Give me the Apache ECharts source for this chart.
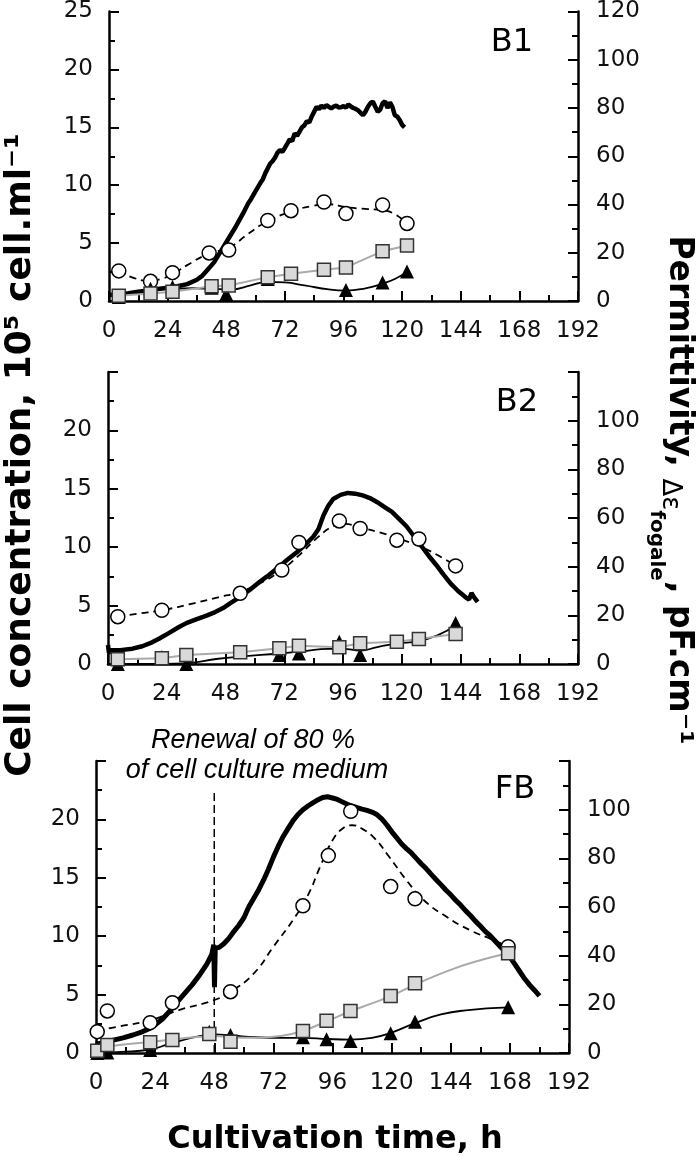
<!DOCTYPE html>
<html>
<head>
<meta charset="utf-8">
<script src="https://cdn.jsdelivr.net/npm/echarts@6/dist/echarts.min.js"></script>
<style>
html, body { margin: 0; padding: 0; background: #fff; }
#box { width: 699px; height: 1157px; }
</style>
</head>
<body>
<div id="box"></div>
<script>
// ---- panel B1 ----
var b1Perm = [[0,2.5],[4,2.8],[8,3.2],[12,3.8],[16,4.4],[20,5.0],[24,5.5],[28,6.1],[32,7.0],[36,8.8],[38,10.3],[40,12.5],[43,16],[46,21],[49,26],[52,31],[55,36.5],[57,40.5],[58,42],[60,45.5],[62,49],[63,50.5],[64,53],[66,57],[67,58],[68,59.5],[69,61.5],[70,62.5],[71,61.8],[72,63.5],[73,65.2],[74,67],[75,66.3],[76,69.5],[77,68.5],[78,70.2],[79,72],[80,72.8],[81,74.5],[82,74],[83,76.5],[84,78.5],[85,80.5],[86,79.5],[87,81],[88,80],[89,81.2],[90,80.5],[91,79.8],[92,80.6],[93,81],[94,80.2],[95,80.3],[96,80.8],[97,80.1],[98,81.5],[99,80.6],[100,80],[101,79.6],[102,79],[103,78],[104,77],[105,78.5],[106,80.5],[107,82],[108,82.7],[109,80.5],[110,78.5],[111,79.3],[112,82],[113,82.8],[114,80],[115,82.3],[116,80.5],[117,77],[118,76.5],[119,75],[120,73],[121,72]];
var b1Circles = [[4,2.6],[17,1.7],[26,2.45],[41,4.15],[49,4.4],[65,6.95],[74.5,7.8],[88,8.55],[97,7.55],[112,8.3],[122,6.7]];
var b1CircleFit = [[4,2.6],[10,2.0],[17,1.75],[22,1.95],[26,2.3],[32,3.1],[41,4.1],[49,4.6],[57,5.8],[65,6.9],[75,7.75],[83,8.2],[90,8.35],[97,8.1],[105,7.95],[112,7.85],[117,7.5],[122,6.7]];
var b1Squares = [[4,0.45],[17,0.65],[26,0.8],[42,1.27],[49,1.33],[65,2.06],[74.5,2.35],[88,2.7],[97,2.9],[112,4.3],[122,4.8]];
var b1Triangles = [[4,0.35],[17,1.05],[26,1.2],[42,1.15],[48,0.6],[65,1.9],[97,0.95],[112,1.6],[122,2.55]];
var b1TriangleFit = [[4,0.4],[17,0.9],[26,1.05],[35,1.1],[42,1.05],[50,1.0],[58,1.35],[65,1.65],[72,1.6],[80,1.35],[90,1.0],[97,0.9],[105,1.1],[112,1.5],[117,1.9],[122,2.5]];

// ---- panel B2 ----
var b2Perm = [[0,7.8],[0.4,4.5],[1,5.6],[5,5.7],[10,6.3],[14,7.3],[18,8.9],[21,10.5],[25,12.8],[29,15.2],[32,16.8],[36,18.3],[40,19.8],[43,21],[47,23],[50,25],[54,27.6],[58,30.5],[62,33.8],[65,36],[69,39.2],[73,42.6],[77,45.8],[81,49.4],[84,52.5],[86,55.5],[88,61],[90,65],[92,67.8],[95,69.5],[98,70.3],[101,70],[104,69.3],[107,68.2],[110,66.5],[113,64.5],[116,62.5],[119,59.5],[122,56.5],[125,52.5],[128,48.5],[131,44.5],[134,40.8],[137,36.8],[140,33],[143,30],[146,27.5],[147.5,26.5],[148.5,29.2],[149.5,27.5],[151,25.5]];
var b2Circles = [[4,4.05],[22,4.6],[54,6.05],[71,8.05],[78,10.4],[94.5,12.25],[103,11.6],[118,10.6],[127,10.7],[142,8.4]];
var b2CircleFit = [[4,4.05],[12,4.3],[22,4.6],[35,5.2],[45,5.7],[54,6.2],[62,6.9],[70,7.9],[78,9.3],[86,10.9],[92,11.8],[96,12.0],[103,11.7],[112,11.2],[118,10.8],[127,10.1],[134,9.4],[142,8.4]];
var b2Squares = [[4,0.4],[22,0.49],[32,0.77],[54,1.0],[70,1.34],[78,1.57],[94.5,1.43],[103,1.77],[118,1.91],[127,2.14],[142,2.57]];
var b2Triangles = [[4,0],[22,0.6],[32,0],[70,0.77],[78,0.9],[94.5,1.9],[103,0.77],[142,3.5]];
var b2TriangleFit = [[4,0.0],[15,0.0],[31,0.05],[45,0.45],[55,0.65],[70,0.9],[80,1.1],[90,1.3],[96,1.3],[103,1.15],[110,1.45],[118,1.75],[127,1.95],[135,2.5],[142,3.3]];

// ---- panel FB ----
var fbPerm = [[0,3.5],[3,4.3],[7,5.3],[11,6.2],[15,7.4],[19,8.8],[22,10.2],[24,11.6],[27,14],[30,17.3],[33,21],[36,24.5],[39,28],[42,32],[45,36.5],[47,40.5],[47.8,44.5],[48.1,27],[48.4,43],[50,43.4],[52,45],[54,47.2],[56,50],[58,52.5],[60,55.5],[62,60],[64,63.5],[66,67],[68,71],[70,75.5],[72,80.5],[74,85],[76,89],[78,92.3],[80,95.5],[82,98],[84,100],[86,101.5],[88,102.8],[90,104],[92,105],[94,105.3],[96,104.8],[98,104.2],[100,103.2],[102,102.2],[104,101.5],[106,100.8],[108,100.2],[110,99.7],[112,99],[114,98],[116,96.2],[118,93.8],[120,91],[122,88.5],[124,86],[126,84],[128,82.2],[130,80],[132,77.8],[134,75.8],[136,73.5],[138,71.3],[140,69.2],[142,67],[144,65],[146,62.8],[148,60.8],[150,58.5],[152,56.5],[154,54.2],[156,52.2],[158,50],[160,48.2],[162,46],[164,43.8],[166,41.8],[168,39.5],[170,36.5],[172,33.5],[174,30.5],[176,28],[178,25.8],[180,23.5]];
var fbCircles = [[0.5,1.83],[4.6,3.6],[22,2.6],[31,4.3],[54.6,5.25],[84,12.6],[94.3,16.9],[103.4,20.7],[119.6,14.25],[129.5,13.2],[167.3,9.1]];
var fbCircleFit = [[0.5,1.9],[10,2.3],[22,2.8],[34,3.7],[47.6,4.5],[54.6,5.25],[64,6.8],[72,9.1],[80,11.4],[86,13.5],[91,15.95],[96,18.2],[100,19.2],[104,19.5],[108,19.2],[113,18.4],[119,16.8],[126,14.8],[133,13.1],[142,11.7],[152,10.5],[161,9.7],[167.3,9.1]];
var fbSquares = [[0.5,0.2],[4.6,0.68],[22,0.92],[31,1.11],[46,1.63],[54.6,0.97],[84,1.88],[93.6,2.77],[103.3,3.6],[119.6,4.88],[129.5,5.97],[167.3,8.54]];
var fbSquareFit = [[0.5,0.25],[5,0.55],[22,0.95],[31,1.15],[40,1.35],[48,1.45],[55,1.35],[65,1.3],[75,1.45],[84,1.9],[94,2.75],[103,3.55],[112,4.25],[120,4.9],[130,5.9],[145,7.2],[157,8.0],[167.3,8.54]];
var fbTriangles = [[0.5,0],[4.6,0.05],[22,0.26],[46,1.83],[54.6,1.54],[84,1.34],[93.6,1.17],[103.3,1.03],[119.6,1.69],[129.5,2.68],[167.3,3.91]];
var fbTriangleFit = [[0.5,0],[10,0.1],[22,0.3],[30,0.8],[40,1.35],[48,1.6],[55,1.5],[65,1.35],[75,1.3],[84,1.3],[94,1.2],[103,1.15],[112,1.3],[120,1.75],[130,2.6],[140,3.3],[150,3.65],[167.3,3.9]];

// medium renewal marker (h, top of dashed line in cell conc. units)
var renewalLine = [[48,0],[48,22.3]];

var panelNames = ['B1', 'B2', 'FB'];

var panels = [
  {perm: b1Perm, circles: b1Circles, circleFit: b1CircleFit, squares: b1Squares, squareFit: null, triangles: b1Triangles, triangleFit: b1TriangleFit},
  {perm: b2Perm, circles: b2Circles, circleFit: b2CircleFit, squares: b2Squares, squareFit: null, triangles: b2Triangles, triangleFit: b2TriangleFit},
  {perm: fbPerm, circles: fbCircles, circleFit: fbCircleFit, squares: fbSquares, squareFit: fbSquareFit, triangles: fbTriangles, triangleFit: fbTriangleFit}
];

var grids = [
  {left: 109, top: 6, width: 469, height: 295},
  {left: 108, top: 372, width: 470, height: 292},
  {left: 96, top: 761, width: 473, height: 292}
];

var FONT = 'DejaVu Sans, Verdana, sans-serif';
var axisLine = {show: true, onZero: false, lineStyle: {color: '#000', width: 2.5}};
var tick = {show: true, inside: true, length: 10, lineStyle: {color: '#000', width: 2}};
var minor = {show: true, splitNumber: 2, length: 6, lineStyle: {color: '#000', width: 2}};

var xAxes = [], yAxes = [], series = [];
for (var i = 0; i < 3; i++) {
  xAxes.push({
    type: 'value', gridIndex: i, min: 0, max: 192, interval: 24,
    axisLine: axisLine, axisTick: tick, minorTick: minor,
    splitLine: {show: false},
    axisLabel: {fontSize: 23, color: '#111', fontFamily: FONT, margin: 19, showMinLabel: true, showMaxLabel: true,
      alignMinLabel: 'center', alignMaxLabel: 'center'}
  });
  yAxes.push({
    type: 'value', gridIndex: i, position: 'left', min: 0, max: 25, interval: 5,
    axisLine: axisLine, axisTick: tick, minorTick: minor,
    splitLine: {show: false},
    axisLabel: {fontSize: 23, color: '#111', fontFamily: FONT, margin: 16, showMaxLabel: i === 0}
  });
  yAxes.push({
    type: 'value', gridIndex: i, position: 'right', min: 0, max: 120, interval: 20,
    axisLine: axisLine, axisTick: tick, minorTick: minor,
    splitLine: {show: false},
    axisLabel: {fontSize: 23, color: '#111', fontFamily: FONT, margin: 18, showMaxLabel: i === 0}
  });

  var p = panels[i];
  var left = 2 * i, right = 2 * i + 1;
  series.push({
    type: 'line', xAxisIndex: i, yAxisIndex: right, data: p.perm,
    showSymbol: false, symbol: 'none', lineStyle: {color: '#000', width: i === 2 ? 5 : 4.5}, z: 2
  });
  series.push({
    type: 'line', xAxisIndex: i, yAxisIndex: left, data: p.circleFit, smooth: true,
    symbol: 'none', lineStyle: {color: '#000', width: 1.8, type: [7, 5]}, z: 3
  });
  series.push({
    type: 'scatter', xAxisIndex: i, yAxisIndex: left, data: p.circles, symbol: 'circle', symbolSize: 14,
    itemStyle: {color: '#fff', borderColor: '#000', borderWidth: 1.5, opacity: 1}, z: 4
  });
  series.push({
    type: 'line', xAxisIndex: i, yAxisIndex: left, data: p.triangleFit, smooth: true,
    symbol: 'none', lineStyle: {color: '#000', width: 1.8}, z: 5
  });
  series.push({
    type: 'scatter', xAxisIndex: i, yAxisIndex: left, data: p.triangles, symbol: 'triangle', symbolSize: 14,
    itemStyle: {color: '#000', opacity: 1}, z: 6
  });
  series.push({
    type: 'line', xAxisIndex: i, yAxisIndex: left, data: p.squareFit || p.squares, smooth: !!p.squareFit,
    symbol: 'none', lineStyle: {color: '#aaaaaa', width: 2}, z: 7
  });
  series.push({
    type: 'scatter', xAxisIndex: i, yAxisIndex: left, data: p.squares, symbol: 'rect', symbolSize: 13,
    itemStyle: {color: '#d9d9d9', borderColor: '#333', borderWidth: 1.5, opacity: 1}, z: 8
  });
}
series.push({
  type: 'line', xAxisIndex: 2, yAxisIndex: 4, data: renewalLine, symbol: 'none',
  lineStyle: {color: '#000', width: 1.5, type: [8, 4]}, z: 3
});

function label(x, y, text, size, extra) {
  var st = {text: text, fontSize: size, fontFamily: FONT, fill: '#000',
    align: 'center', verticalAlign: 'middle', textAlign: 'center', textVerticalAlign: 'middle'};
  for (var k in extra || {}) st[k] = extra[k];
  return {type: 'text', x: x, y: y, style: st, z: 100};
}

var ITALIC = 'Liberation Sans, Arial, sans-serif';
var graphics = [
  label(512, 43, panelNames[0], 32),
  label(517, 403, panelNames[1], 32),
  label(515, 790, panelNames[2], 32),
  label(253, 740, 'Renewal of 80 %', 27, {fontFamily: ITALIC, fontStyle: 'italic'}),
  label(257, 770, 'of cell culture medium', 27, {fontFamily: ITALIC, fontStyle: 'italic'}),
  label(335, 1140, 'Cultivation time, h', 32, {fontWeight: 'bold'})
];
var leftTitle = label(0, 0, 'Cell concentration, 10\u2075 cell.ml\u207B\u00B9', 36, {fontWeight: 'bold'});
leftTitle.x = 21; leftTitle.y = 455; leftTitle.rotation = Math.PI / 2;
graphics.push(leftTitle);

// right title built from pieces so the subscript sits below the baseline
var ctx = document.createElement('canvas').getContext('2d');
var rightParts = [
  {t: 'Permittivity, ', size: 33, weight: 'bold', shift: 0},
  {t: '\u0394\u03B5', size: 26, weight: 'normal', shift: 7},
  {t: 'fogale', size: 20, weight: 'bold', shift: 19},
  {t: ', pF.cm\u207B\u00B9', size: 33, weight: 'bold', shift: 0}
];
var total = 0;
rightParts.forEach(function (pt) {
  ctx.font = pt.weight + ' ' + pt.size + 'px DejaVu Sans';
  pt.w = ctx.measureText(pt.t).width;
  total += pt.w;
});
var baseline = 12;
var cursor = -total / 2;
var children = rightParts.map(function (pt) {
  var el = {
    type: 'text', x: cursor, y: baseline + pt.shift - 0.3 * pt.size,
    style: {text: pt.t, fontSize: pt.size, fontWeight: pt.weight, fontFamily: FONT, fill: '#000',
      align: 'left', verticalAlign: 'middle', textAlign: 'left', textVerticalAlign: 'middle'}
  };
  cursor += pt.w;
  return el;
});
graphics.push({type: 'group', x: 681, y: 490, rotation: -Math.PI / 2, children: children, z: 100});

var myChart = echarts.init(document.getElementById('box'));
var option = {
  animation: false,
  backgroundColor: '#fff',
  grid: grids,
  xAxis: xAxes,
  yAxis: yAxes,
  series: series,
  graphic: graphics
};
myChart.setOption(option, true);
</script>
</body>
</html>
